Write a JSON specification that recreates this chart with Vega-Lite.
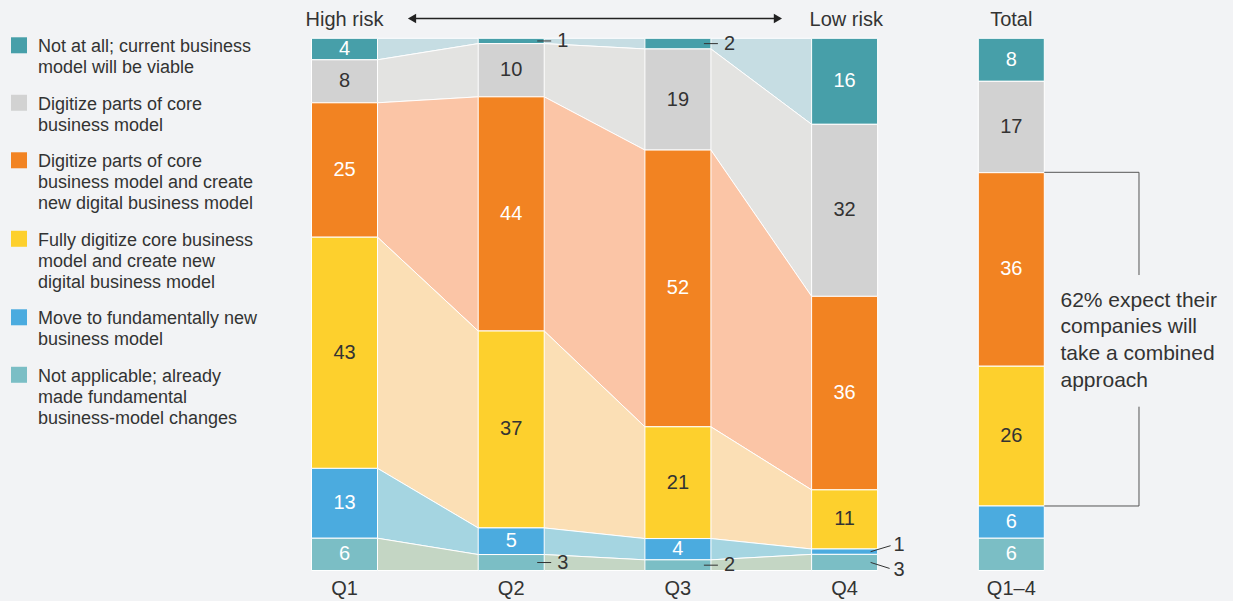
{
  "$schema": "https://vega.github.io/schema/vega-lite/v6.json",
  "width": 1233,
  "height": 601,
  "autosize": "none",
  "padding": 0,
  "background": "#f2f3f5",
  "config": {
    "view": {"stroke": null},
    "font": "Liberation Sans",
    "style": {"guide-label": {"lineHeight": 21}}
  },
  "layer": [
    {
      "data": {
        "values": [
          {"quarter": "Q1", "cat": "Not at all; current business model will be viable", "value": 4},
          {"quarter": "Q1", "cat": "Digitize parts of core business model", "value": 8},
          {"quarter": "Q1", "cat": "Digitize parts of core business model and create new digital business model", "value": 25},
          {"quarter": "Q1", "cat": "Fully digitize core business model and create new digital business model", "value": 43},
          {"quarter": "Q1", "cat": "Move to fundamentally new business model", "value": 13},
          {"quarter": "Q1", "cat": "Not applicable; already made fundamental business-model changes", "value": 6},
          {"quarter": "Q2", "cat": "Not at all; current business model will be viable", "value": 1},
          {"quarter": "Q2", "cat": "Digitize parts of core business model", "value": 10},
          {"quarter": "Q2", "cat": "Digitize parts of core business model and create new digital business model", "value": 44},
          {"quarter": "Q2", "cat": "Fully digitize core business model and create new digital business model", "value": 37},
          {"quarter": "Q2", "cat": "Move to fundamentally new business model", "value": 5},
          {"quarter": "Q2", "cat": "Not applicable; already made fundamental business-model changes", "value": 3},
          {"quarter": "Q3", "cat": "Not at all; current business model will be viable", "value": 2},
          {"quarter": "Q3", "cat": "Digitize parts of core business model", "value": 19},
          {"quarter": "Q3", "cat": "Digitize parts of core business model and create new digital business model", "value": 52},
          {"quarter": "Q3", "cat": "Fully digitize core business model and create new digital business model", "value": 21},
          {"quarter": "Q3", "cat": "Move to fundamentally new business model", "value": 4},
          {"quarter": "Q3", "cat": "Not applicable; already made fundamental business-model changes", "value": 2},
          {"quarter": "Q4", "cat": "Not at all; current business model will be viable", "value": 16},
          {"quarter": "Q4", "cat": "Digitize parts of core business model", "value": 32},
          {"quarter": "Q4", "cat": "Digitize parts of core business model and create new digital business model", "value": 36},
          {"quarter": "Q4", "cat": "Fully digitize core business model and create new digital business model", "value": 11},
          {"quarter": "Q4", "cat": "Move to fundamentally new business model", "value": 1},
          {"quarter": "Q4", "cat": "Not applicable; already made fundamental business-model changes", "value": 3},
          {"quarter": "Q1–4", "cat": "Not at all; current business model will be viable", "value": 8},
          {"quarter": "Q1–4", "cat": "Digitize parts of core business model", "value": 17},
          {"quarter": "Q1–4", "cat": "Digitize parts of core business model and create new digital business model", "value": 36},
          {"quarter": "Q1–4", "cat": "Fully digitize core business model and create new digital business model", "value": 26},
          {"quarter": "Q1–4", "cat": "Move to fundamentally new business model", "value": 6},
          {"quarter": "Q1–4", "cat": "Not applicable; already made fundamental business-model changes", "value": 6}
        ]
      },
      "transform": [
        {"calculate": "indexof(['Q1','Q2','Q3','Q4','Q1–4'], datum.quarter) + 1", "as": "idx"},
        {"calculate": "indexof(['Not at all; current business model will be viable','Digitize parts of core business model','Digitize parts of core business model and create new digital business model','Fully digitize core business model and create new digital business model','Move to fundamentally new business model','Not applicable; already made fundamental business-model changes'], datum.cat)", "as": "ord"},
        {"stack": "value", "groupby": ["quarter"], "sort": [{"field": "ord", "order": "descending"}], "offset": "normalize", "as": ["y0", "y1"]},
        {"calculate": "(datum.y0 + datum.y1) / 2", "as": "ymid"},
        {"calculate": "datum.idx - 0.198", "as": "xl"},
        {"calculate": "datum.idx + 0.198", "as": "xr"}
      ],
      "resolve": {"legend": {"color": "independent", "fill": "independent"}},
      "layer": [
        {
          "transform": [
            {"filter": "datum.idx <= 4"},
            {"fold": ["xl", "xr"], "as": ["edge", "xp"]}
          ],
          "mark": {"type": "area", "stroke": "white", "strokeWidth": 1, "opacity": 1},
          "encoding": {
            "x": {"field": "xp", "type": "quantitative", "scale": {"domain": [-1.06659, 6.32991], "nice": false, "zero": false}, "axis": null},
            "y": {"field": "y1", "type": "quantitative", "stack": null, "scale": {"domain": [-0.05731, 1.07196], "nice": false, "zero": false}, "axis": null},
            "y2": {"field": "y0"},
            "fill": {
              "field": "cat", "type": "nominal", "legend": null,
              "scale": {
                "domain": ["Not at all; current business model will be viable","Digitize parts of core business model","Digitize parts of core business model and create new digital business model","Fully digitize core business model and create new digital business model","Move to fundamentally new business model","Not applicable; already made fundamental business-model changes"],
                "range": ["#c6dde3", "#e3e3e1", "#fbc5a6", "#fbdfb5", "#a5d5e1", "#c4d6c4"]
              }
            }
          }
        },
        {
          "mark": {"type": "rect", "stroke": "white", "strokeWidth": 1},
          "encoding": {
            "x": {"field": "xl", "type": "quantitative", "scale": {"domain": [-1.06659, 6.32991], "nice": false, "zero": false}, "axis": null},
            "x2": {"field": "xr"},
            "y": {"field": "y1", "type": "quantitative", "scale": {"domain": [-0.05731, 1.07196], "nice": false, "zero": false}, "axis": null},
            "y2": {"field": "y0"},
            "color": {
              "field": "cat", "type": "nominal",
              "scale": {
                "domain": ["Not at all; current business model will be viable","Digitize parts of core business model","Digitize parts of core business model and create new digital business model","Fully digitize core business model and create new digital business model","Move to fundamentally new business model","Not applicable; already made fundamental business-model changes"],
                "range": ["#479fa9", "#d2d2d2", "#f28322", "#fdd02d", "#4babdf", "#7bbec5"]
              },
              "legend": {
                "orient": "none",
                "legendX": 10,
                "legendY": 43,
                "title": null,
                "padding": 0,
                "symbolType": "M-1,-1.84L1,-1.84L1,0.16L-1,0.16Z",
                "symbolSize": 256,
                "symbolStrokeWidth": 0,
                "labelFontSize": 18,
                "labelColor": "#333333",
                "labelBaseline": "alphabetic",
                "labelOffset": 10,
                "labelLimit": 400,
                "rowPadding": 17.5,
                "labelExpr": "datum.label == 'Not at all; current business model will be viable' ? ['Not at all; current business', 'model will be viable'] : datum.label == 'Digitize parts of core business model' ? ['Digitize parts of core', 'business model'] : datum.label == 'Digitize parts of core business model and create new digital business model' ? ['Digitize parts of core', 'business model and create', 'new digital business model'] : datum.label == 'Fully digitize core business model and create new digital business model' ? ['Fully digitize core business', 'model and create new', 'digital business model'] : datum.label == 'Move to fundamentally new business model' ? ['Move to fundamentally new', 'business model'] : ['Not applicable; already', 'made fundamental', 'business-model changes']"
              }
            }
          }
        },
        {
          "transform": [{"filter": "datum.value >= 4"}],
          "mark": {"type": "text", "fontSize": 20, "baseline": "middle"},
          "encoding": {
            "x": {"field": "idx", "type": "quantitative"},
            "y": {"field": "ymid", "type": "quantitative"},
            "text": {"field": "value", "type": "quantitative"},
            "color": {"condition": {"test": "datum.ord == 1 || datum.ord == 3", "value": "#333333"}, "value": "#ffffff"}
          }
        },
        {
          "transform": [{"filter": "datum.value <= 3 && datum.idx < 4"}],
          "mark": {"type": "rule", "xOffset": 26, "x2Offset": 40, "color": "#333333", "strokeWidth": 1},
          "encoding": {
            "x": {"field": "idx", "type": "quantitative"},
            "x2": {"field": "idx"},
            "y": {"field": "ymid", "type": "quantitative"}
          }
        },
        {
          "transform": [{"filter": "datum.value <= 3 && datum.idx < 4"}],
          "mark": {"type": "text", "fontSize": 20, "baseline": "middle", "align": "left", "dx": 46, "color": "#333333"},
          "encoding": {
            "x": {"field": "idx", "type": "quantitative"},
            "y": {"field": "ymid", "type": "quantitative"},
            "text": {"field": "value", "type": "quantitative"}
          }
        },
        {
          "transform": [{"filter": "datum.idx == 4 && datum.ord == 4"}],
          "mark": {"type": "rule", "xOffset": 26, "x2Offset": 46, "y2Offset": -6, "color": "#333333", "strokeWidth": 1},
          "encoding": {
            "x": {"field": "idx", "type": "quantitative"},
            "x2": {"field": "idx"},
            "y": {"field": "ymid", "type": "quantitative"},
            "y2": {"field": "ymid"}
          }
        },
        {
          "transform": [{"filter": "datum.idx == 4 && datum.ord == 5"}],
          "mark": {"type": "rule", "xOffset": 26, "x2Offset": 45, "y2Offset": 6, "color": "#333333", "strokeWidth": 1},
          "encoding": {
            "x": {"field": "idx", "type": "quantitative"},
            "x2": {"field": "idx"},
            "y": {"field": "ymid", "type": "quantitative"},
            "y2": {"field": "ymid"}
          }
        },
        {
          "transform": [{"filter": "datum.idx == 4 && datum.ord == 4"}],
          "mark": {"type": "text", "fontSize": 20, "baseline": "middle", "align": "left", "dx": 49, "dy": -7, "color": "#333333"},
          "encoding": {
            "x": {"field": "idx", "type": "quantitative"},
            "y": {"field": "ymid", "type": "quantitative"},
            "text": {"field": "value", "type": "quantitative"}
          }
        },
        {
          "transform": [{"filter": "datum.idx == 4 && datum.ord == 5"}],
          "mark": {"type": "text", "fontSize": 20, "baseline": "middle", "align": "left", "dx": 49, "dy": 8, "color": "#333333"},
          "encoding": {
            "x": {"field": "idx", "type": "quantitative"},
            "y": {"field": "ymid", "type": "quantitative"},
            "text": {"field": "value", "type": "quantitative"}
          }
        },
        {
          "transform": [{"filter": "datum.ord == 0"}],
          "mark": {"type": "text", "fontSize": 20, "baseline": "middle", "color": "#333333"},
          "encoding": {
            "x": {"field": "idx", "type": "quantitative"},
            "y": {"datum": -0.0355},
            "text": {"field": "quarter", "type": "nominal"}
          }
        }
      ]
    },
    {
      "data": {"values": [{}]},
      "mark": {"type": "text", "text": "High risk", "fontSize": 20, "baseline": "middle", "color": "#333333"},
      "encoding": {"x": {"datum": 1.0}, "y": {"datum": 1.034}}
    },
    {
      "data": {"values": [{}]},
      "mark": {"type": "text", "text": "Low risk", "fontSize": 20, "baseline": "middle", "color": "#333333"},
      "encoding": {"x": {"datum": 4.01}, "y": {"datum": 1.034}}
    },
    {
      "data": {"values": [{}]},
      "mark": {"type": "text", "text": "Total", "fontSize": 20, "baseline": "middle", "color": "#333333"},
      "encoding": {"x": {"datum": 5.0}, "y": {"datum": 1.034}}
    },
    {
      "data": {"values": [{}]},
      "mark": {"type": "rule", "color": "#222222", "strokeWidth": 1.5},
      "encoding": {"x": {"datum": 1.42}, "x2": {"datum": 3.59}, "y": {"datum": 1.0373}}
    },
    {
      "data": {"values": [{}]},
      "mark": {"type": "point", "shape": "triangle-left", "filled": true, "size": 90, "opacity": 1, "color": "#222222"},
      "encoding": {"x": {"datum": 1.405}, "y": {"datum": 1.0373}}
    },
    {
      "data": {"values": [{}]},
      "mark": {"type": "point", "shape": "triangle-right", "filled": true, "size": 90, "opacity": 1, "color": "#222222"},
      "encoding": {"x": {"datum": 3.6}, "y": {"datum": 1.0373}}
    },
    {
      "data": {"values": [{}]},
      "mark": {"type": "rule", "color": "#555555", "strokeWidth": 1},
      "encoding": {"x": {"datum": 5.198}, "x2": {"datum": 5.766}, "y": {"datum": 0.7482}}
    },
    {
      "data": {"values": [{}]},
      "mark": {"type": "rule", "color": "#555555", "strokeWidth": 1},
      "encoding": {"x": {"datum": 5.766}, "y": {"datum": 0.7482}, "y2": {"datum": 0.5552}}
    },
    {
      "data": {"values": [{}]},
      "mark": {"type": "rule", "color": "#555555", "strokeWidth": 1},
      "encoding": {"x": {"datum": 5.766}, "y": {"datum": 0.3078}, "y2": {"datum": 0.1212}}
    },
    {
      "data": {"values": [{}]},
      "mark": {"type": "rule", "color": "#555555", "strokeWidth": 1},
      "encoding": {"x": {"datum": 5.198}, "x2": {"datum": 5.766}, "y": {"datum": 0.1212}}
    },
    {
      "data": {"values": [{}]},
      "mark": {"type": "text", "text": ["62% expect their", "companies will", "take a combined", "approach"], "fontSize": 21, "lineHeight": 26.7, "align": "left", "baseline": "alphabetic", "color": "#333333"},
      "encoding": {"x": {"datum": 5.295}, "y": {"datum": 0.4957}}
    }
  ]
}
